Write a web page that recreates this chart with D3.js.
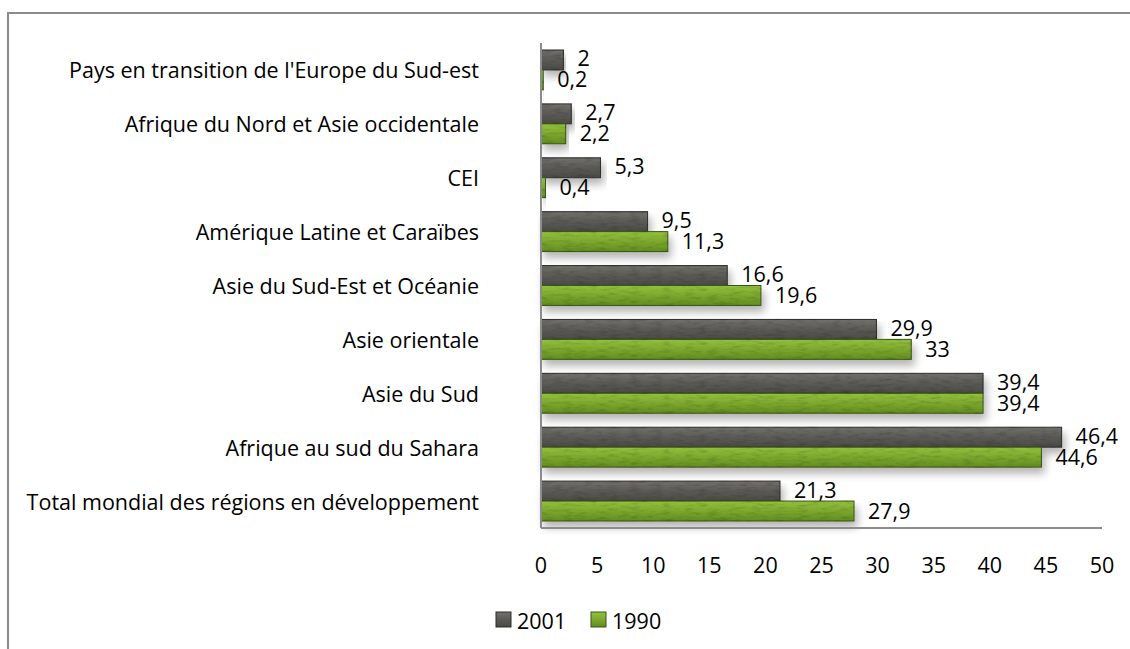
<!DOCTYPE html>
<html>
<head>
<meta charset="utf-8">
<script src="https://cdn.jsdelivr.net/npm/d3@7"></script>
<style>
  body { margin: 0; background: #fff; }
  svg text { font-family: "Open Sans", "Liberation Sans", sans-serif; fill: #000; }
</style>
</head>
<body>
<div id="chart"></div>
<script>
// Regions, top to bottom as shown
const categories = [
  "Pays en transition de l'Europe du Sud-est",
  'Afrique du Nord et Asie occidentale',
  'CEI',
  'Amérique Latine et Caraïbes',
  'Asie du Sud-Est et Océanie',
  'Asie orientale',
  'Asie du Sud',
  'Afrique au sud du Sahara',
  'Total mondial des régions en développement',
];
const values2001 = [2, 2.7, 5.3, 9.5, 16.6, 29.9, 39.4, 46.4, 21.3];
const values1990 = [0.2, 2.2, 0.4, 11.3, 19.6, 33, 39.4, 44.6, 27.9];
const seriesNames = ['2001', '1990'];
const xTicks = [0, 5, 10, 15, 20, 25, 30, 35, 40, 45, 50];

const W = 1130, H = 649;
const margin = { left: 541, top: 43, right: 28, bottom: 121 };
const width = W - margin.left - margin.right;
const height = H - margin.top - margin.bottom;
const fontSize = 21.5;

const svg = d3.select('#chart').append('svg')
  .attr('width', W)
  .attr('height', H);

const defs = svg.append('defs');

// stone-like texture + soft shadow
function texture (id, base, light, dark) {
  const g = defs.append('linearGradient').attr('id', id + '-grad')
    .attr('x1', 0).attr('y1', 0).attr('x2', 0).attr('y2', 1);
  g.append('stop').attr('offset', '0%').attr('stop-color', light);
  g.append('stop').attr('offset', '45%').attr('stop-color', base);
  g.append('stop').attr('offset', '100%').attr('stop-color', dark);
}
texture('dark', '#5d5c58', '#72716c', '#4b4a46');
texture('green', '#7fab30', '#93c23c', '#628d1f');

const f = defs.append('filter').attr('id', 'stone')
  .attr('x', '-5%').attr('y', '-20%').attr('width', '115%').attr('height', '190%');
f.append('feTurbulence').attr('type', 'fractalNoise')
  .attr('baseFrequency', '0.09 0.35').attr('numOctaves', 3).attr('seed', 4).attr('result', 'noise');
f.append('feColorMatrix').attr('in', 'noise').attr('type', 'matrix')
  .attr('values', '0 0 0 0 0  0 0 0 0 0  0 0 0 0 0  0 0 0 -1.6 0.9').attr('result', 'spots');
f.append('feComposite').attr('in', 'spots').attr('in2', 'SourceAlpha').attr('operator', 'in').attr('result', 'spotsIn');
f.append('feComponentTransfer').attr('in', 'spotsIn').attr('result', 'spotsSoft')
  .append('feFuncA').attr('type', 'linear').attr('slope', 0.4);
f.append('feGaussianBlur').attr('in', 'SourceAlpha').attr('stdDeviation', 4).attr('result', 'blur');
f.append('feOffset').attr('in', 'blur').attr('dx', 3).attr('dy', 6).attr('result', 'off');
f.append('feComponentTransfer').attr('in', 'off').attr('result', 'shadow')
  .append('feFuncA').attr('type', 'linear').attr('slope', 0.3);
const m = f.append('feMerge');
m.append('feMergeNode').attr('in', 'shadow');
m.append('feMergeNode').attr('in', 'SourceGraphic');
m.append('feMergeNode').attr('in', 'spotsSoft');

// outer frame (only top and left visible)
svg.append('path')
  .attr('d', `M8,${H} L8,13 L${W},13`)
  .attr('fill', 'none')
  .attr('stroke', '#8c8c8c')
  .attr('stroke-width', 2);

const frame = svg.append('g')
  .attr('transform', `translate(${margin.left} ${margin.top})`);

const xScale = d3.scaleLinear().domain([0, 50]).range([0, width]);
const yScale = d3.scaleBand().domain(categories).range([0, height])
  .paddingInner(0.26).paddingOuter(0.13);
const sub = d3.scaleBand().domain(seriesNames).range([0, yScale.bandwidth()]);

const fills = { '2001': 'url(#dark-grad)', '1990': 'url(#green-grad)' };
const strokes = { '2001': '#2e2d2b', '1990': '#3b5614' };
const labelShift = { '2001': -2, '1990': -1 };

const rows = categories.map((c, i) => ({
  cat: c,
  vals: [
    { s: '2001', v: values2001[i] },
    { s: '1990', v: values1990[i] },
  ],
}));

const groups = frame.selectAll('.grp')
  .data(rows)
  .enter().append('g')
    .attr('class', 'grp')
    .attr('transform', d => `translate(0 ${yScale(d.cat)})`);

groups.selectAll('rect')
  .data(d => d.vals)
  .enter().append('rect')
    .attr('x', 0)
    .attr('y', d => sub(d.s))
    .attr('width', d => xScale(d.v))
    .attr('height', sub.bandwidth())
    .attr('fill', d => fills[d.s])
    .attr('stroke', d => strokes[d.s])
    .attr('stroke-width', 1)
    .attr('filter', 'url(#stone)');

groups.selectAll('.val')
  .data(d => d.vals)
  .enter().append('text')
    .attr('class', 'val')
    .attr('x', d => xScale(d.v) + 14)
    .attr('y', d => sub(d.s) + sub.bandwidth() / 2 + labelShift[d.s])
    .attr('dominant-baseline', 'central')
    .attr('font-size', fontSize)
    .text(d => String(d.v).replace('.', ','));

// axes lines
frame.append('line')
  .attr('x1', 0).attr('x2', 0)
  .attr('y1', 0).attr('y2', height)
  .attr('stroke', '#8c8c8c').attr('stroke-width', 2);
frame.append('line')
  .attr('x1', 0).attr('x2', width)
  .attr('y1', height).attr('y2', height)
  .attr('stroke', '#8c8c8c').attr('stroke-width', 2);

// category labels
frame.selectAll('.cat')
  .data(categories)
  .enter().append('text')
    .attr('class', 'cat')
    .attr('x', -62)
    .attr('y', d => yScale(d) + yScale.bandwidth() / 2)
    .attr('text-anchor', 'end')
    .attr('dominant-baseline', 'central')
    .attr('font-size', fontSize)
    .text(d => d);

// x tick labels
frame.selectAll('.tick')
  .data(xTicks)
  .enter().append('text')
    .attr('class', 'tick')
    .attr('x', d => xScale(d))
    .attr('y', height + 36)
    .attr('text-anchor', 'middle')
    .attr('dominant-baseline', 'central')
    .attr('font-size', fontSize)
    .text(d => d);

// legend
const legend = svg.append('g');
const legendX = [496, 591];
seriesNames.forEach((s, i) => {
  legend.append('rect')
    .attr('x', legendX[i]).attr('y', 612)
    .attr('width', 15).attr('height', 15)
    .attr('fill', fills[s])
    .attr('stroke', strokes[s]);
  legend.append('text')
    .attr('x', legendX[i] + 21).attr('y', 620)
    .attr('dominant-baseline', 'central')
    .attr('font-size', fontSize)
    .text(s);
});
</script>
</body>
</html>
